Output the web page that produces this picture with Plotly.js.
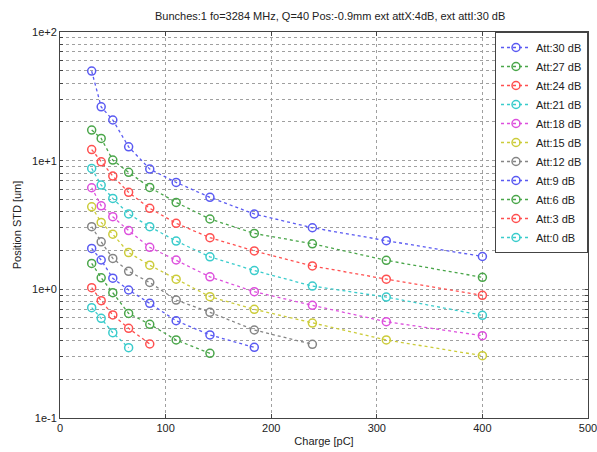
<!DOCTYPE html>
<html>
<head>
<meta charset="utf-8">
<script src="https://cdn.plot.ly/plotly-3.0.1.min.js"></script>
<style>html,body{margin:0;padding:0;background:#fff;}#chart{width:597px;height:452px;}</style>
</head>
<body>
<div id="chart"></div>
<script>
// Charge values (pC)
const charge = [30, 39, 50, 65, 85, 110, 142, 184, 239, 309, 400];

// Series names
const seriesNames = ["Att:30 dB","Att:27 dB","Att:24 dB","Att:21 dB","Att:18 dB","Att:15 dB","Att:12 dB","Att:9 dB","Att:6 dB","Att:3 dB","Att:0 dB"];

// Position STD [um] per series
const att30 = [49.7, 26.2, 20.7, 12.8, 8.6, 6.78, 5.19, 3.85, 3.01, 2.39, 1.80];
const att27 = [17.3, 14.9, 10.1, 8.11, 6.2, 4.74, 3.52, 2.72, 2.26, 1.68, 1.24];
const att24 = [12.2, 9.8, 7.59, 5.67, 4.26, 3.26, 2.52, 1.99, 1.52, 1.20, 0.898];
const att21 = [8.71, 6.46, 5.09, 3.85, 3.07, 2.37, 1.79, 1.40, 1.06, 0.871, 0.628];
const att18 = [6.16, 4.46, 3.67, 2.86, 2.12, 1.69, 1.25, 0.958, 0.751, 0.560, 0.436];
const att15 = [4.38, 3.31, 2.68, 1.93, 1.54, 1.20, 0.877, 0.699, 0.547, 0.404, 0.305];
const att12 = [3.07, 2.34, 1.74, 1.38, 1.13, 0.826, 0.663, 0.483, 0.374];
const att9  = [2.08, 1.69, 1.22, 0.988, 0.778, 0.570, 0.442, 0.354];
const att6  = [1.59, 1.23, 0.941, 0.650, 0.535, 0.404, 0.318];
const att3  = [1.03, 0.816, 0.632, 0.498, 0.376];
const att0  = [0.720, 0.595, 0.460, 0.352];

// Axis tick values / labels
const xTicks = [0, 100, 200, 300, 400, 500];
const yMajor = [0.1, 1, 10, 100];
const yMajorLabels = ["1e-1", "1e+0", "1e+1", "1e+2"];
const yMinorDigits = [2, 3, 4, 5, 6, 7, 8, 9];

const seriesValues = [att30, att27, att24, att21, att18, att15, att12, att9, att6, att3, att0];
const colors = ["#5a5af2", "#4aa64a", "#ff5050", "#3acccc", "#dd50dd", "#cccc3a", "#858585", "#5a5af2", "#4aa64a", "#ff5050", "#3acccc"];

const traces = seriesValues.map((vals, i) => ({
  type: "scatter",
  mode: "lines+markers",
  name: seriesNames[i],
  x: charge.slice(0, vals.length),
  y: vals,
  line: {color: colors[i], width: 1.3, dash: "dot"},
  marker: {symbol: "circle-open", size: 8, color: colors[i], line: {width: 1.5, color: colors[i]}}
}));

const yTickVals = [];
const yTickText = [];
for (let d = 0; d < yMajor.length; d++) {
  yTickVals.push(yMajor[d]);
  yTickText.push(yMajorLabels[d]);
  if (d < yMajor.length - 1) {
    yMinorDigits.forEach(m => { yTickVals.push(yMajor[d] * m); yTickText.push(""); });
  }
}

const fontFam = "Liberation Sans, Arial, Helvetica, sans-serif";

const layout = {
  width: 597, height: 452,
  margin: {l: 60, r: 9, t: 32, b: 34},
  paper_bgcolor: "#ffffff", plot_bgcolor: "#ffffff",
  font: {family: fontFam, size: 11, color: "#222"},
  title: {text: "Bunches:1 fo=3284 MHz, Q=40 Pos:-0.9mm ext attX:4dB, ext attI:30 dB", font: {size: 11, color: "#222"}, x: 0.553, xanchor: "center", y: 0.965, yanchor: "middle"},
  xaxis: {
    range: [0, 500], tickvals: xTicks, ticktext: xTicks.map(String),
    showgrid: true, gridcolor: "#a0a0a0", griddash: "dot", gridwidth: 1,
    showline: true, linecolor: "#444", linewidth: 1, mirror: "ticks",
    ticks: "inside", ticklen: 4, tickcolor: "#444", ticklabeloverflow: "allow",
    zeroline: false, tickfont: {size: 11},
    title: {text: "Charge [pC]", font: {size: 11}, standoff: 4}
  },
  yaxis: {
    type: "log", range: [-1, 2], tickvals: yTickVals, ticktext: yTickText,
    showgrid: true, gridcolor: "#a0a0a0", griddash: "dot", gridwidth: 1,
    showline: true, linecolor: "#444", linewidth: 1, mirror: "ticks",
    ticks: "inside", ticklen: 3, tickcolor: "#444",
    zeroline: false, tickfont: {size: 11},
    title: {text: "Position STD [um]", font: {size: 11}, standoff: 8}
  },
  legend: {
    x: 1, xanchor: "right", y: 1, yanchor: "top",
    bgcolor: "#ffffff", bordercolor: "#444", borderwidth: 1,
    font: {size: 11, color: "#222"}, tracegroupgap: 0, itemwidth: 30
  },
  showlegend: true
};

Plotly.newPlot("chart", traces, layout, {staticPlot: true, displayModeBar: false});
</script>
</body>
</html>
